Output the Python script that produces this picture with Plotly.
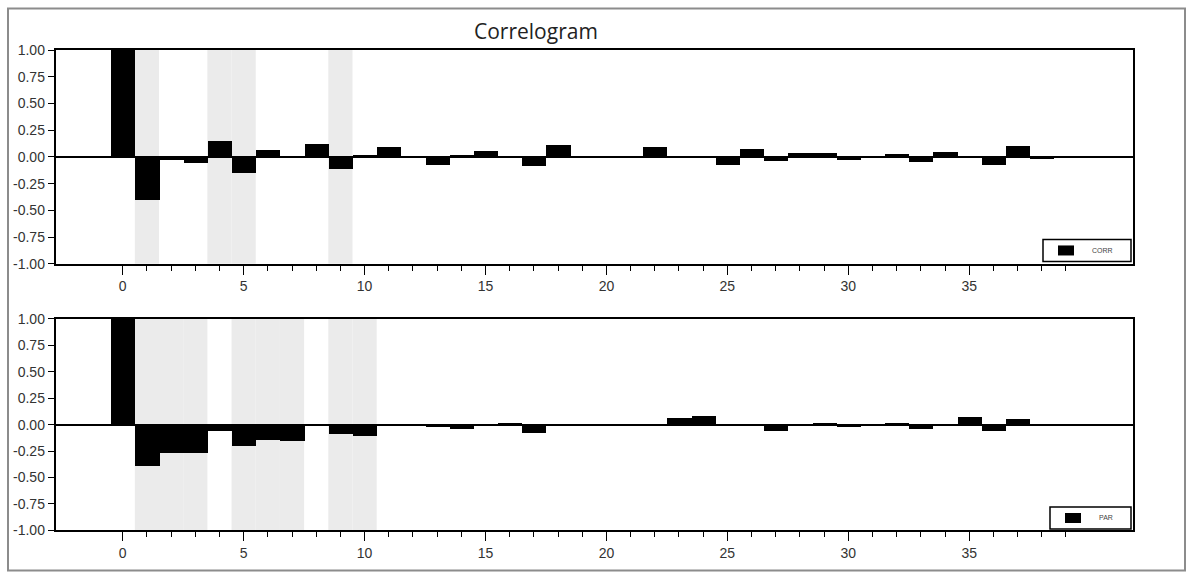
import plotly.graph_objects as go

# ---------------- data ----------------
lags = list(range(0, 39))

corr = [1.00, -0.40, -0.03, -0.06, 0.15, -0.15, 0.06, 0.005, 0.125, -0.115,
        0.02, 0.09, 0.0, -0.08, 0.015, 0.055, 0.0, -0.09, 0.11, 0.0,
        0.0, -0.015, 0.09, 0.0, 0.0, -0.08, 0.07, -0.04, 0.035, 0.035,
        -0.025, 0.0, 0.03, -0.045, 0.05, 0.0, -0.08, 0.105, -0.02]

par = [1.00, -0.39, -0.265, -0.27, -0.06, -0.20, -0.14, -0.15, 0.0, -0.09,
       -0.11, 0.0, 0.0, -0.025, -0.045, 0.0, 0.02, -0.08, 0.0, 0.0,
       0.0, 0.0, 0.0, 0.065, 0.085, 0.0, 0.0, -0.055, 0.0, 0.02,
       -0.02, 0.0, 0.02, -0.04, 0.0, 0.07, -0.06, 0.055, 0.0]

acf_shaded_lags = [1, 4, 5, 9]
pacf_shaded_lags = [1, 2, 3, 5, 6, 7, 9, 10]

series_names = ["CORR", "PAR"]

y_ticks = [1.0, 0.75, 0.5, 0.25, 0.0, -0.25, -0.5, -0.75, -1.0]
y_tick_text = ["1.00", "0.75", "0.50", "0.25", "0.00", "-0.25", "-0.50", "-0.75", "-1.00"]
x_major = [0, 5, 10, 15, 20, 25, 30, 35]
x_minor = list(range(0, 40))

W, H = 1192, 579

def px_x(p):
    return p / W

def px_y(p):
    # map a target pixel row to a paper fraction (compensates capture offset)
    f = (p - 8.0) / 0.9705
    f = min(max(f, 0.5), H - 0.5)
    return 1 - f / H

fig = go.Figure()

fig.add_trace(go.Bar(x=lags, y=corr, width=1.0, name=series_names[0],
                     marker=dict(color="black", line=dict(width=0)),
                     xaxis="x", yaxis="y", showlegend=False))
fig.add_trace(go.Bar(x=lags, y=par, width=1.0, name=series_names[1],
                     marker=dict(color="black", line=dict(width=0)),
                     xaxis="x2", yaxis="y2", showlegend=False))

tick_font = dict(family="Liberation Sans Narrow, Liberation Sans, Arial", size=14, color="#333333")

def xaxis_cfg(anchor):
    return dict(
        domain=[px_x(55.5), px_x(1132.7)], anchor=anchor,
        range=[-2.78, 41.76],
        showline=True, linecolor="black", linewidth=1.5, mirror=True,
        showgrid=False, zeroline=False,
        tickmode="array", tickvals=x_major, ticktext=[str(v) for v in x_major],
        ticks="outside", ticklen=9, tickwidth=1, tickcolor="black",
        tickfont=tick_font,
        minor=dict(tickmode="array", tickvals=x_minor, ticks="outside",
                   ticklen=5, tickwidth=1, tickcolor="black", showgrid=False),
    )

def yaxis_cfg(anchor, dom):
    return dict(
        domain=dom, anchor=anchor, range=[-1, 1],
        showline=True, linecolor="black", linewidth=1.5, mirror=True,
        showgrid=False,
        zeroline=True, zerolinecolor="black", zerolinewidth=1.5,
        tickmode="array", tickvals=y_ticks, ticktext=y_tick_text,
        ticks="outside", ticklen=6, tickwidth=1, tickcolor="black",
        tickfont=tick_font,
    )

shapes = []
for lag in acf_shaded_lags:
    shapes.append(dict(type="rect", xref="x", yref="y domain", x0=lag - 0.5, x1=lag + 0.5,
                       y0=0, y1=1, fillcolor="#ebebeb", line=dict(width=0), layer="below"))
for lag in pacf_shaded_lags:
    shapes.append(dict(type="rect", xref="x2", yref="y2 domain", x0=lag - 0.5, x1=lag + 0.5,
                       y0=0, y1=1, fillcolor="#ebebeb", line=dict(width=0), layer="below"))
# outer frame
shapes.append(dict(type="rect", xref="paper", yref="paper",
                   x0=px_x(8), x1=px_x(1185), y0=px_y(577), y1=px_y(7),
                   line=dict(color="#8c8c8c", width=2), fillcolor="rgba(0,0,0,0)"))

annotations = [dict(text="Correlogram", xref="paper", yref="paper",
                    x=px_x(536), y=px_y(31), xanchor="center", yanchor="middle",
                    showarrow=False,
                    font=dict(family="Open Sans", size=21, color="#222222"))]

# legend boxes (one per panel)
legend_boxes = [(1043, 239, 1131, 261), (1050, 506, 1131, 528)]
for name, (lx0, ly0, lx1, ly1) in zip(series_names, legend_boxes):
    shapes.append(dict(type="rect", xref="paper", yref="paper",
                       x0=px_x(lx0), x1=px_x(lx1), y0=px_y(ly1), y1=px_y(ly0),
                       line=dict(color="black", width=1.5), fillcolor="white"))
    cy = (ly0 + ly1) / 2
    shapes.append(dict(type="rect", xref="paper", yref="paper",
                       x0=px_x(lx0 + 15), x1=px_x(lx0 + 31), y0=px_y(cy + 5), y1=px_y(cy - 5),
                       line=dict(width=0), fillcolor="black"))
    annotations.append(dict(text=name, xref="paper", yref="paper",
                            x=px_x(lx0 + 47), y=px_y(cy), xanchor="left", yanchor="middle",
                            showarrow=False,
                            font=dict(family="Liberation Sans", size=7, color="#444444")))

fig.update_layout(
    width=W, height=H,
    margin=dict(l=0, r=0, t=0, b=0),
    paper_bgcolor="white", plot_bgcolor="white",
    bargap=0,
    showlegend=False,
    xaxis=xaxis_cfg("y"),
    yaxis=yaxis_cfg("x", [px_y(263.3), px_y(50)]),
    xaxis2=xaxis_cfg("y2"),
    yaxis2=yaxis_cfg("x2", [px_y(529.3), px_y(318.3)]),
    shapes=shapes,
    annotations=annotations,
)

fig.write_html("out.html", config={"displayModeBar": False},
               post_script="document.body.style.margin='0';document.body.style.overflow='hidden';")
